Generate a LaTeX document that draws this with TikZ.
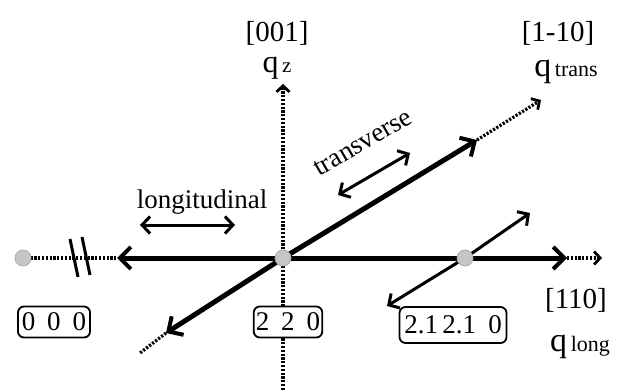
\documentclass[tikz,border=0pt]{standalone}
\usepackage{fontspec}
\setmainfont{Liberation Serif}
\usetikzlibrary{arrows.meta}
\begin{document}
\begin{tikzpicture}[x=1pt,y=-1pt,
  bigtxt/.style={font=\fontsize{29}{31}\selectfont, inner sep=0pt},
  midtxt/.style={font=\fontsize{27}{29}\selectfont, inner sep=0pt},
  thickax/.style={line width=5pt, -{Straight Barb[length=11pt,width=22pt,line width=4pt]}},
  thinarr/.style={line width=3pt, {Straight Barb[length=8pt,width=17pt,line width=3pt]}-{Straight Barb[length=8pt,width=17pt,line width=3pt]}},
  thinone/.style={line width=3pt, -{Straight Barb[length=8pt,width=17pt,line width=3pt]}},
  dotline/.style={line width=3.2pt, dash pattern=on 2.2pt off 1.6pt},
  dotarr/.style={dotline, -{Straight Barb[length=6pt,width=13pt,line width=2.8pt]}},
  gdot/.style={circle, fill=gray!45, draw=gray!65, line width=0.8pt, minimum size=16pt, inner sep=0pt},
  hkl/.style={draw, rounded corners=6pt, line width=1.8pt, fill=white, inner sep=2pt, font=\fontsize{27}{29}\selectfont},
  breakmark/.style={line width=3pt}
]
\useasboundingbox (0,0) rectangle (617,390);
% coordinates
\coordinate (O) at (283,258);
\coordinate (P000) at (23,258);
\coordinate (P21) at (465,258);
\coordinate (Lt) at (117,258);
\coordinate (Rt) at (567,258);
\coordinate (Rend) at (602,258);
\coordinate (Vbot) at (283,390);
\coordinate (Vtop) at (283,84);
\coordinate (T1) at (166,333);
\coordinate (T1e) at (140,353);
\coordinate (T2) at (477,140);
\coordinate (T2e) at (541,100);
\coordinate (S1) at (387,306);
\coordinate (S2) at (530,213);
\coordinate (Tr1) at (338,195);
\coordinate (Tr2) at (410,153);
\coordinate (Lo1) at (140,225);
\coordinate (Lo2) at (235,225);
\coordinate (B1a) at (70,239);
\coordinate (B1b) at (78,277);
\coordinate (B2a) at (82,237);
\coordinate (B2b) at (90,275);

% vertical dotted axis
\draw[dotarr] (Vbot) -- (Vtop);
% left dotted segment
\draw[dotline] (P000) -- (Lt);
\draw[breakmark] (B1a) -- (B1b);
\draw[breakmark] (B2a) -- (B2b);
% right dotted extension
\draw[dotarr] (Rt) -- (Rend);
% diagonal dotted extensions
\draw[dotline] (T1) -- (T1e);
\draw[dotarr] (T2) -- (T2e);
% thick axes
\draw[thickax] (O) -- (Lt);
\draw[thickax] (O) -- (Rt);
\draw[thickax] (O) -- (T1);
\draw[thickax] (O) -- (T2);
% small arrow through 2.1 2.1 0
\draw[thinone] (P21) -- (S1);
\draw[thinone] (P21) -- (S2);
% direction arrows
\draw[thinarr] (Tr1) -- (Tr2);
\draw[thinarr] (Lo1) -- (Lo2);

% gray dots
\node[gdot] (d000) at (P000) {};
\node[gdot] (d220) at (O) {};
\node[gdot] (d21) at (P21) {};

% boxes
\node[hkl, minimum width=72pt, minimum height=31pt] (b000) at (54,322) {0\;\,0\;\,0};
\node[hkl, minimum width=66pt, minimum height=31pt] (b220) at (288,322) {2\;\,2\;\,0};
\node[hkl, minimum width=107pt, minimum height=36pt] (b21) at (453,325) {2.1\,2.1\;\,0};

% labels
\node[bigtxt] (l001) at (277,33) {[001]};
\node[inner sep=0pt, anchor=base] (lqz) at (277,73) {{\fontsize{32}{32}\selectfont q}{\fontsize{21}{21}\selectfont\,z}};
\node[bigtxt] (l110) at (576,300) {[110]};
\node[inner sep=0pt, anchor=base] (lql) at (580,351) {{\fontsize{34}{34}\selectfont q}{\fontsize{22}{22}\selectfont\,long}};
\node[bigtxt] (l1m10) at (558,33) {[1-10]};
\node[inner sep=0pt, anchor=base] (lqt) at (566,77) {{\fontsize{34}{34}\selectfont q}{\fontsize{22}{22}\selectfont\,trans}};
\node[midtxt, rotate=30] (ltr) at (363,143) {transverse};
\node[midtxt] (llo) at (202,202) {longitudinal};
\end{tikzpicture}
\end{document}
